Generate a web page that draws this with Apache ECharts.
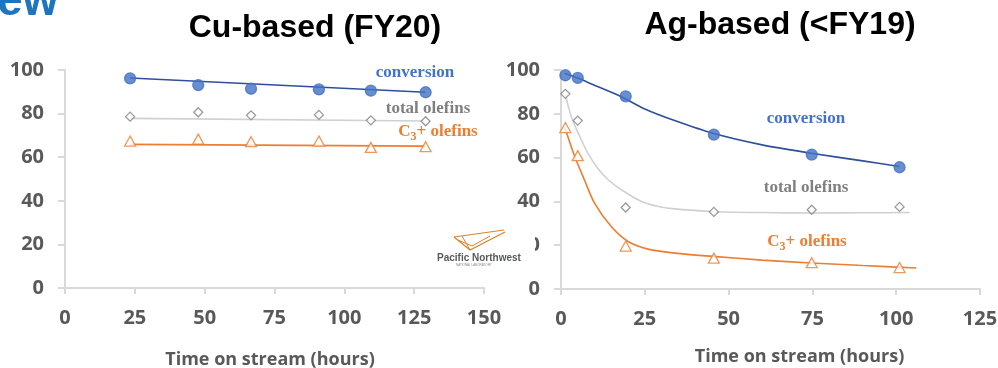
<!DOCTYPE html>
<html>
<head>
<meta charset="utf-8">
<script src="https://cdn.jsdelivr.net/npm/echarts@6/dist/echarts.min.js"></script>
<style>
  html, body { margin: 0; padding: 0; background: #fff; }
  #panel { width: 998px; height: 368px; }
</style>
</head>
<body>
<div id="panel"></div>
<script>
// Cu-based (FY20) catalyst
var cuTime = [23.3, 47.7, 66.6, 90.9, 109.5, 129.1];
var cuConversion = [96.2, 93.1, 91.4, 91.1, 90.5, 89.8];
var cuTotalOlefins = [78.6, 80.6, 79.2, 79.4, 76.9, 76.5];
var cuC3Olefins = [67.4, 68.3, 67.1, 67.4, 64.5, 64.8];
// linear trend lines (ends)
var cuFitTime = [23.3, 129.1];
var cuFitConversion = [96.3, 89.8];
var cuFitTotalOlefins = [77.8, 76.6];
var cuFitC3Olefins = [65.9, 65.1];

// Ag-based (<FY19) catalyst
var agTime = [1.3, 5.0, 19.3, 45.6, 74.8, 101];
var agConversion = [97.6, 96.4, 88.0, 70.5, 61.4, 55.6];
var agTotalOlefins = [89.1, 76.9, 37.2, 35.2, 36.2, 37.5];
var agC3Olefins = [73.7, 60.9, 19.6, 14.1, 12.0, 9.8];
// fitted curves, points
var agFitConversion = [[1.1, 98.5], [5, 96.3], [10, 93], [18, 87.8], [25, 82.2], [33.9, 76.9], [45.3, 71.1], [60, 65.8], [74.7, 62], [90, 58.5], [100.9, 55.9]];
var agFitTotalOlefins = [[1.3, 89], [3, 79], [5.5, 70], [8, 62], [11, 55], [14, 50], [18, 45.3], [24, 40], [29.4, 37.6], [34, 36.6], [45.3, 35.4], [60, 34.9], [74.7, 34.7], [90, 34.8], [104, 34.9]];
var agFitC3Olefins = [[1.1, 74], [4.1, 60.5], [7, 49.8], [10, 39.2], [15, 28.5], [20, 21.7], [26, 18.2], [34, 16.4], [45.3, 14.9], [60, 13.2], [74.7, 11.9], [90, 10.7], [106, 9.6]];

var yTicks = { min: 0, max: 100, interval: 20 };

function pairs(xs, ys) {
    return xs.map(function (x, i) { return [x, ys[i]]; });
}

var axisGray = '#d9d9d9';
var labelGray = '#595959';
var blue = '#4472c4';
var navy = '#2f4f9c';
var gray = '#7f7f7f';
var lightGray = '#d0d0d0';
var orange = '#ed7d31';

function xAxisCfg(idx, max, gap, gapPadding) {
    return {
        type: 'value',
        gridIndex: idx,
        min: 0,
        max: max,
        interval: 25,
        axisLine: { show: true, lineStyle: { color: axisGray, width: 2 } },
        axisTick: { show: true, length: 6, lineStyle: { color: axisGray, width: 2 } },
        axisLabel: { color: labelGray, fontSize: 20, fontWeight: 'bold', fontFamily: 'Open Sans', margin: 20 },
        splitLine: { show: false },
        name: 'Time on stream (hours)',
        nameLocation: 'middle',
        nameGap: gap,
        nameTextStyle: { color: labelGray, fontSize: 18, fontWeight: 'bold', fontFamily: 'Open Sans', padding: gapPadding }
    };
}

function yAxisCfg(idx) {
    return {
        type: 'value',
        gridIndex: idx,
        min: yTicks.min,
        max: yTicks.max,
        interval: yTicks.interval,
        axisLine: { show: true, lineStyle: { color: axisGray, width: 2 } },
        axisTick: { show: true, length: 7, lineStyle: { color: axisGray, width: 2 } },
        axisLabel: { color: labelGray, fontSize: 20, fontWeight: 'bold', fontFamily: 'Open Sans', margin: 21 },
        splitLine: { show: false }
    };
}

function points(name, idx, data, symbol, size, fill, border) {
    return {
        name: name,
        type: 'scatter',
        xAxisIndex: idx,
        yAxisIndex: idx,
        data: data,
        symbol: symbol,
        symbolSize: size,
        itemStyle: { color: fill, borderColor: border, borderWidth: 1.3 },
        z: 5
    };
}

function trend(idx, data, color, smooth) {
    return {
        type: 'line',
        xAxisIndex: idx,
        yAxisIndex: idx,
        data: data,
        showSymbol: false,
        smooth: smooth,
        lineStyle: { color: color, width: 1.6 },
        silent: true,
        z: 3
    };
}

function seriesLabel(x, y, text, color) {
    return {
        type: 'text', x: x, y: y, z: 20,
        style: { text: text, fill: color, font: 'bold 17px "Liberation Serif"', align: 'center', verticalAlign: 'middle' }
    };
}

function c3Label(x, y) {
    return {
        type: 'text', x: x, y: y, z: 20,
        style: {
            text: '{a|C}{b|3}{a|+ olefins}',
            align: 'center', verticalAlign: 'middle',
            rich: {
                a: { fill: orange, fontSize: 17, fontWeight: 'bold', fontFamily: 'Liberation Serif' },
                b: { fill: orange, fontSize: 12, fontWeight: 'bold', fontFamily: 'Liberation Serif', padding: [9, 0, 0, 0] }
            }
        }
    };
}

var dom = document.getElementById('panel');
var myChart = echarts.init(dom, null, { renderer: 'canvas' });

var option = {
    animation: false,
    backgroundColor: '#ffffff',
    title: [
        { text: 'Cu-based (FY20)', left: 310, top: 7, textAlign: 'center',
          textStyle: { fontSize: 32, fontWeight: 'bold', fontFamily: 'Liberation Sans', color: '#000' } },
        { text: 'Ag-based (<FY19)', left: 775, top: 4, textAlign: 'center',
          textStyle: { fontSize: 32, fontWeight: 'bold', fontFamily: 'Liberation Sans', color: '#000' } }
    ],
    grid: [
        { left: 65, top: 70, width: 419, height: 218, outerBoundsMode: 'none', containLabel: false },
        { left: 561, top: 70, width: 419, height: 219, outerBoundsMode: 'none', containLabel: false }
    ],
    xAxis: [xAxisCfg(0, 150, 63, [0, 9, 0, 0]), xAxisCfg(1, 125, 59, [0, 0, 0, 58])],
    yAxis: [yAxisCfg(0), yAxisCfg(1)],
    series: [
        trend(0, pairs(cuFitTime, cuFitConversion), navy, false),
        trend(0, pairs(cuFitTime, cuFitTotalOlefins), lightGray, false),
        trend(0, pairs(cuFitTime, cuFitC3Olefins), orange, false),
        points('conversion', 0, pairs(cuTime, cuConversion), 'circle', 11, blue, blue),
        points('total olefins', 0, pairs(cuTime, cuTotalOlefins), 'diamond', 9, '#fff', gray),
        points('C3+ olefins', 0, pairs(cuTime, cuC3Olefins), 'triangle', [11, 10], '#fff', orange),

        trend(1, agFitConversion, navy, 0.3),
        trend(1, agFitTotalOlefins, lightGray, 0.3),
        trend(1, agFitC3Olefins, orange, 0.3),
        points('conversion', 1, pairs(agTime, agConversion), 'circle', 11, blue, blue),
        points('total olefins', 1, pairs(agTime, agTotalOlefins), 'diamond', 9, '#fff', gray),
        points('C3+ olefins', 1, pairs(agTime, agC3Olefins), 'triangle', [11, 10], '#fff', orange)
    ],
    graphic: [
        // cut-off slide heading
        { type: 'text', x: -3, y: -21, z: 20,
          style: { text: 'ew', fill: '#1e74be', font: 'bold 46px "Liberation Sans"', verticalAlign: 'top' } },

        seriesLabel(415, 73, 'conversion', blue),
        seriesLabel(428, 109, 'total olefins', gray),
        c3Label(438, 132),

        seriesLabel(806, 119, 'conversion', blue),
        seriesLabel(806, 188, 'total olefins', gray),
        c3Label(807, 242),

        // PNNL logo patch
        { type: 'group', z: 50, children: [
            { type: 'rect', shape: { x: 432, y: 226, width: 103, height: 44 }, style: { fill: '#fff' }, z: 50 },
            { type: 'polyline', shape: { points: [[454, 237], [504, 230]] }, style: { stroke: '#d9822b', lineWidth: 1.2, fill: null }, z: 51 },
            { type: 'polyline', shape: { points: [[454, 237], [470, 250], [505, 232]] }, style: { stroke: '#d9822b', lineWidth: 1.2, fill: null }, z: 51 },
            { type: 'polyline', shape: { points: [[458, 240], [472, 246], [490, 236]] }, style: { stroke: '#d9822b', lineWidth: 1, fill: null }, z: 51 },
            { type: 'polyline', shape: { points: [[462, 236], [470, 250]] }, style: { stroke: '#d9822b', lineWidth: 1, fill: null }, z: 51 },
            { type: 'text', x: 437, y: 258, z: 52,
              style: { text: 'Pacific Northwest', fill: '#58595b', font: 'bold 10px "Liberation Sans"', verticalAlign: 'middle' } },
            { type: 'text', x: 456, y: 265, z: 52,
              style: { text: 'NATIONAL LABORATORY', fill: '#8a8a8a', font: '3px "Liberation Sans"', verticalAlign: 'middle' } }
        ] }
    ]
};

if (option && typeof option === 'object') {
    myChart.setOption(option, true);
}
</script>
</body>
</html>
